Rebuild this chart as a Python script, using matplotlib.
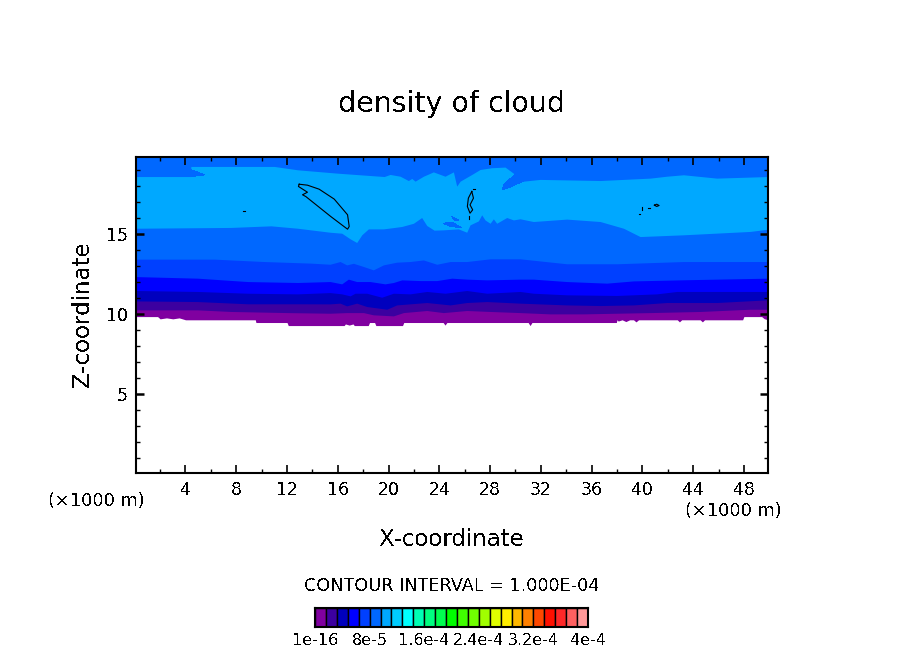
#!/usr/bin/env python3
# -*- coding: utf-8 -*-
import matplotlib
matplotlib.use("Agg")
import matplotlib.pyplot as plt

W, H = 904, 654

# contour band boundaries (x in km, z in km), bottom to top
x0 = [0.1, 1.8, 2.0, 2.5, 3.0, 3.5, 4.0, 9.5, 9.55, 12.0, 12.1, 16.5, 16.6, 16.9, 17.2, 17.3, 18.4, 18.5, 18.9, 19.0,
      21.1, 21.2, 24.3, 24.45, 24.6, 31.0, 31.15, 31.3, 37.95, 38.0, 38.1, 38.4, 38.7, 39.0, 39.3, 39.5, 39.7,
      42.75, 42.92, 43.1, 44.55, 44.73, 44.9, 47.9, 48.0, 49.4, 49.6, 49.9]
z0 = [9.83, 9.83, 9.69, 9.75, 9.69, 9.75, 9.63, 9.63, 9.46, 9.46, 9.27, 9.27, 9.37, 9.3, 9.37, 9.27, 9.27, 9.46, 9.46, 9.27,
      9.27, 9.46, 9.46, 9.3, 9.46, 9.46, 9.27, 9.46, 9.46, 9.63, 9.55, 9.63, 9.52, 9.63, 9.63, 9.5, 9.63,
      9.63, 9.5, 9.63, 9.63, 9.5, 9.63, 9.63, 9.83, 9.83, 9.7, 9.63]

x1 = [0.1, 4.95, 7.57, 12.04, 15.39, 16.7, 18.02, 18.8, 20.38, 21.17, 23.01, 24.32, 26.16, 28.0, 30.36, 32.73, 35.36,
      37.98, 40.61, 44.55, 48.49, 49.9]
z1 = [10.25, 10.25, 10.15, 10.08, 10.04, 10.08, 10.08, 9.94, 9.875, 10.08, 10.21, 10.08, 10.21, 10.15, 10.08, 10.0, 10.0,
      10.04, 10.08, 10.15, 10.29, 10.29]

x2 = [0.1, 4.95, 8.89, 12.83, 15.39, 16.18, 16.7, 17.49, 18.28, 19.86, 20.64, 23.01, 24.85, 26.16, 27.74, 30.36,
      34.04, 36.67, 39.3, 41.92, 45.86, 49.9]
z2 = [10.81, 10.77, 10.63, 10.63, 10.625, 10.67, 10.5, 10.67, 10.46, 10.29, 10.56, 10.71, 10.56, 10.71, 10.77, 10.67,
      10.56, 10.52, 10.56, 10.71, 10.71, 10.88]

x3 = [0.1, 4.95, 8.89, 12.83, 15.39, 16.31, 16.97, 17.36, 18.28, 19.46, 20.38, 21.69, 23.01, 24.45, 26.16, 27.74, 30.36,
      31.41, 34.04, 37.98, 41.13, 42.71, 49.9]
z3 = [11.46, 11.4, 11.29, 11.25, 11.33, 11.25, 11.125, 11.29, 11.29, 11.04, 11.29, 11.25, 11.4, 11.29, 11.46, 11.29, 11.4,
      11.29, 11.19, 11.15, 11.25, 11.4, 11.4]

x4 = [0.1, 4.95, 8.89, 12.83, 15.39, 16.31, 16.83, 17.49, 18.54, 19.72, 20.38, 21.04, 22.48, 23.8, 24.98, 26.16, 27.74,
      30.36, 31.41, 34.04, 37.19, 39.3, 43.24, 49.9]
z4 = [12.33, 12.23, 12.02, 11.96, 12.02, 11.875, 12.17, 12.02, 12.02, 11.875, 11.96, 12.125, 12.08, 12.08, 12.23, 12.17, 12.125,
      12.17, 12.17, 12.02, 11.92, 12.06, 12.13, 12.23]

x5 = [0.1, 6.26, 10.2, 13.88, 15.39, 16.18, 16.7, 17.23, 18.02, 18.8, 19.59, 20.64, 21.69, 22.74, 23.8, 24.85, 26.16, 28.0,
      30.36, 34.04, 37.98, 43.24, 49.9]
z5 = [13.42, 13.42, 13.27, 13.17, 13.10, 13.27, 13.06, 13.16, 12.96, 12.75, 13.06, 13.23, 13.27, 13.37, 13.10, 13.27, 13.27, 13.44,
      13.44, 13.13, 13.13, 13.27, 13.27]

x6 = [0.1, 7.57, 10.73, 12.83, 15.39, 16.31, 16.97, 17.49, 17.89, 18.41, 19.59, 19.99, 20.38, 21.04, 21.96, 22.61, 23.01,
      23.59, 24.32, 25.5, 26.16, 26.42, 27.08, 27.34, 27.6, 28.0, 28.26, 28.52, 29.31, 29.84, 30.36,
      31.41, 34.04, 36.67, 38.51, 39.82, 43.24, 48.49, 49.9]
z6 = [15.35, 15.4, 15.5, 15.35, 15.10, 15.04, 14.69, 14.46, 14.94, 15.31, 15.31, 15.35, 15.39, 15.46, 15.66, 16.02, 15.52,
      15.23, 15.25, 15.31, 15.10, 15.56, 15.81, 16.19, 15.87, 15.66, 15.94, 15.66, 16.02, 15.87, 15.94,
      15.77, 15.92, 15.77, 15.35, 14.83, 14.94, 15.15, 15.29]

x7 = [0.1, 4.42, 4.42, 10.99, 12.83, 15.98, 19.66, 20.12, 20.91, 21.56, 21.83, 22.09, 22.75, 23.53, 24.45, 25.11, 25.37,
      25.64, 26.56, 27.21, 28.13, 29.18, 29.97, 30.63, 31.94, 36.67, 40.61, 41.92, 43.24, 45.86, 49.9]
z7 = [18.58, 18.58, 19.21, 19.21, 19.0, 18.79, 18.58, 18.71, 18.6, 18.33, 18.46, 18.29, 18.6, 18.87, 18.6, 18.87, 17.98,
      18.29, 18.71, 19.02, 19.13, 19.17, 18.71, 18.29, 18.4, 18.33, 18.48, 18.6, 18.69, 18.48, 18.58]

# small patches of the darker band inside the light one
notch_a_x = [4.42, 4.42, 5.53]
notch_a_z = [18.58, 19.0, 18.69]
notch_b_x = [29.97, 29.05, 29.0, 29.45, 30.63]
notch_b_z = [18.71, 18.08, 17.77, 17.88, 18.29]
tongue_x = [24.32, 24.98, 25.77, 24.85]
tongue_z = [15.66, 15.73, 15.39, 15.46]
island_x = [24.98, 25.5, 25.24]
island_z = [16.08, 15.87, 15.81]

# black contour of the 1e-4 level
loop_a_x = [12.96, 13.61, 14.53, 15.72, 16.77, 16.9, 16.77, 15.45, 13.48, 13.22, 13.61, 12.9, 12.96]
loop_a_z = [18.1, 18.04, 17.79, 17.17, 16.19, 15.46, 15.29, 16.08, 17.33, 17.44, 17.6, 17.96, 18.1]
loop_b_x = [26.56, 26.29, 26.21, 26.42, 26.63, 26.42, 26.69, 26.56]
loop_b_z = [17.65, 17.23, 16.71, 16.29, 16.5, 16.81, 17.23, 17.65]
loop_c_x = [40.95, 41.13, 41.32, 41.13, 40.95]
loop_c_z = [16.79, 16.85, 16.77, 16.71, 16.79]
specks = [
    ([8.52, 8.68], [16.42, 16.42]),
    ([26.35, 26.35], [16.14, 15.94]),
    ([26.63, 26.8], [17.79, 17.79]),
    ([39.95, 39.95], [16.67, 16.46]),
    ([40.48, 40.58], [16.63, 16.63]),
    ([39.77, 39.85], [16.23, 16.23]),
]

band_colors = ["#8000a0", "#3c00a0", "#0000be", "#0000ff", "#0040ff", "#0068ff", "#00a8ff", "#0068ff"]

bar_colors = ["#8000a0", "#3c00a0", "#0000be", "#0000ff", "#0040ff", "#0068ff", "#00a8ff", "#00ccff", "#00ffff",
              "#00ffb4", "#00ff80", "#00ff50", "#00ff00", "#40ff00", "#70ff00", "#a0ff00", "#e0ff00", "#ffee00",
              "#ffb800", "#ff8000", "#ff4800", "#ff1000", "#ff2828", "#ff6060", "#ff9898"]
bar_ticks = [0, 5, 10, 15, 20, 25]
bar_labels = ["1e-16", "8e-5", "1.6e-4", "2.4e-4", "3.2e-4", "4e-4"]

x_major = [4, 8, 12, 16, 20, 24, 28, 32, 36, 40, 44, 48]
x_minor = [2, 6, 10, 14, 18, 22, 26, 30, 34, 38, 42, 46]
y_major = [5, 10, 15]
y_minor = [1, 2, 3, 4, 6, 7, 8, 9, 11, 12, 13, 14, 16, 17, 18, 19]


def px_axes(fig, left, top, right, bottom):
    return fig.add_axes([left / W, 1 - bottom / H, (right - left) / W, (bottom - top) / H])


def px_text(fig, x, y, s, **kw):
    kw.setdefault("ha", "center")
    kw.setdefault("va", "center")
    fig.text(x / W, 1 - y / H, s, **kw)


def main():
    plt.rcParams["font.family"] = ["DejaVu Sans"]
    plt.rcParams["text.antialiased"] = False

    fig = plt.figure(figsize=(W / 100, H / 100), dpi=100)
    ax = px_axes(fig, 136, 157, 768, 473)
    ax.set_xlim(0.1, 49.9)
    ax.set_ylim(0.06, 19.8)

    # painter's order: every band fills from its lower edge up to the top
    bounds = [(x0, z0), (x1, z1), (x2, z2), (x3, z3), (x4, z4), (x5, z5), (x6, z6), (x7, z7)]
    for (bx, bz), c in zip(bounds, band_colors):
        ax.fill_between(bx, bz, 19.8, color=c, lw=0, antialiased=False)
    for px, pz in [(notch_a_x, notch_a_z), (notch_b_x, notch_b_z), (tongue_x, tongue_z), (island_x, island_z)]:
        ax.fill(px, pz, color=band_colors[-1], lw=0, antialiased=False)

    for lx, lz in [(loop_a_x, loop_a_z), (loop_b_x, loop_b_z), (loop_c_x, loop_c_z)] + specks:
        ax.plot(lx, lz, color="black", lw=0.8)

    ax.set_xticks(x_major)
    ax.set_xticks(x_minor, minor=True)
    ax.set_yticks(y_major)
    ax.set_yticks(y_minor, minor=True)
    ax.tick_params(axis="x", which="major", direction="in", top=True, length=6, width=1.2, labelsize=12.5, pad=6)
    ax.tick_params(axis="x", which="minor", direction="in", top=True, length=3, width=1.0)
    ax.tick_params(axis="y", which="major", direction="in", right=True, length=6, width=1.8, labelsize=12.5, pad=6)
    ax.tick_params(axis="y", which="minor", direction="in", right=True, length=3, width=1.0)
    for sp in ax.spines.values():
        sp.set_linewidth(1.5)

    px_text(fig, 452, 104, "density of cloud", fontsize=20.5)
    px_text(fig, 452, 540, "X-coordinate", fontsize=16.5)
    px_text(fig, 83, 314, "Z-coordinate", fontsize=16.5, rotation=90)
    px_text(fig, 96, 501, "(×1000 m)", fontsize=12.8)
    px_text(fig, 733, 511, "(×1000 m)", fontsize=12.8)
    px_text(fig, 452, 586, "CONTOUR INTERVAL = 1.000E-04", fontsize=12.7)

    # colour key
    cax = px_axes(fig, 315, 608, 588, 627)
    cax.bar(range(len(bar_colors)), [1] * len(bar_colors), width=1.0, align="edge",
            color=bar_colors, edgecolor="black", linewidth=1.0)
    cax.set_xlim(0, len(bar_colors))
    cax.set_ylim(0, 1)
    cax.set_yticks([])
    cax.set_xticks(bar_ticks, bar_labels)
    cax.tick_params(axis="x", length=0, labelsize=11.5, pad=4)
    for sp in cax.spines.values():
        sp.set_linewidth(1.5)

    fig.savefig("out.png", dpi=100)
    plt.close(fig)


if __name__ == "__main__":
    main()
